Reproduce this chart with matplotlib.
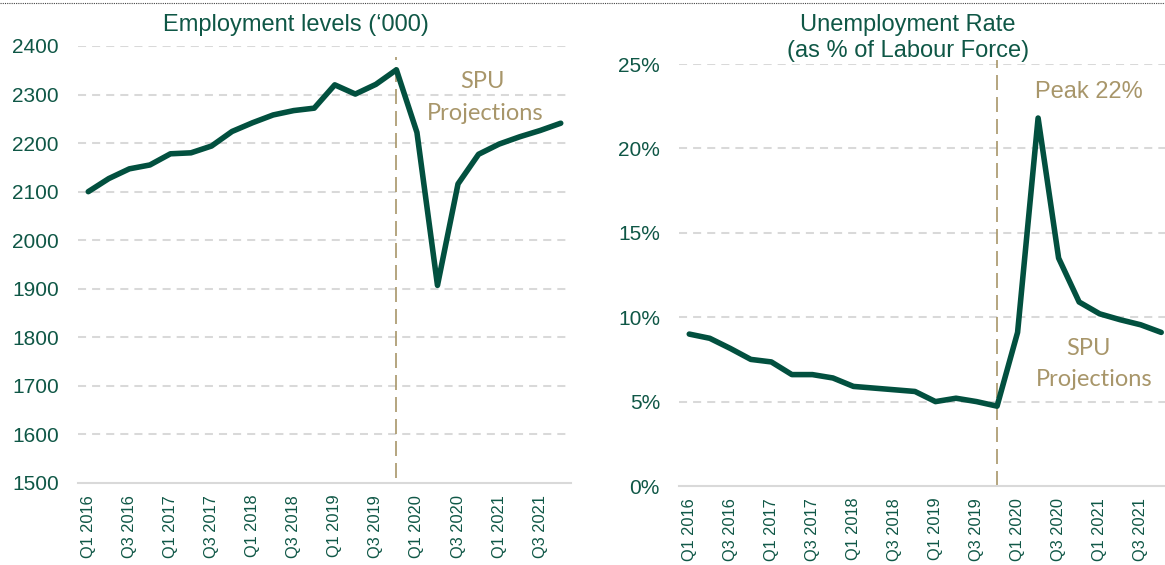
import matplotlib
matplotlib.use("Agg")
import matplotlib.pyplot as plt
from matplotlib.lines import Line2D
from matplotlib.ticker import FuncFormatter

# ---------------- data ----------------
years = [2016, 2017, 2018, 2019, 2020, 2021]
quarters = [f"Q{q} {y}" for y in years for q in (1, 2, 3, 4)]

employment = [2100, 2127, 2147, 2155, 2178, 2180, 2194, 2224, 2242, 2258, 2267, 2272,
              2320, 2301, 2321, 2351, 2222, 1907, 2116, 2177, 2198, 2213, 2226, 2241]
unemployment = [9.0, 8.75, 8.15, 7.5, 7.35, 6.6, 6.6, 6.4, 5.9, 5.8, 5.7, 5.6,
                5.0, 5.2, 5.0, 4.73, 9.1, 21.8, 13.5, 10.9, 10.2, 9.85, 9.55, 9.1]

emp_ticks = [1500, 1600, 1700, 1800, 1900, 2000, 2100, 2200, 2300, 2400]
unemp_ticks = [0, 5, 10, 15, 20, 25]
projection_start = "Q4 2019"

title_left = "Employment levels (\u2018000)"
peak_label = "Peak 22%"
proj_label_1 = "SPU"
proj_label_2 = "Projections"

# ---------------- style ----------------
W, H = 1165, 565
LINE = "#02503F"
TXT = "#0F5746"
GOLD = "#A8966A"
GRID = "#D9D9D9"
SANS = ["Liberation Sans", "DejaVu Sans"]
CAL = ["Lato", "DejaVu Sans"]

plt.rcParams["font.family"] = SANS

fig = plt.figure(figsize=(W / 100, H / 100), dpi=100)


def px_rect(x0, y0, x1, y1):
    return [x0 / W, 1 - y1 / H, (x1 - x0) / W, (y1 - y0) / H]


def style_axis(ax, yticks, fmt=None):
    n = len(quarters)
    ax.set_xlim(-0.5, n - 0.5)
    ax.set_ylim(yticks[0], yticks[-1])
    ax.set_yticks(yticks)
    if fmt:
        ax.yaxis.set_major_formatter(FuncFormatter(fmt))
    ax.set_xticks(range(0, n, 2))
    ax.set_xticklabels(quarters[::2], rotation=90, fontsize=11.8, color=TXT,
                       va="top", ha="center")
    ax.tick_params(axis="x", length=0, pad=8.5)
    ax.tick_params(axis="y", length=0, pad=13.7, labelsize=15, labelcolor=TXT)
    for s in ("top", "right", "left"):
        ax.spines[s].set_visible(False)
    ax.spines["bottom"].set_color(GRID)
    ax.spines["bottom"].set_linewidth(1.5)
    for t in yticks[1:]:
        ax.axhline(t, color=GRID, lw=1.45, ls=(0, (4.0, 3.0)), zorder=0)
    ax.set_facecolor("none")


# ---------------- left panel ----------------
axl = fig.add_axes(px_rect(78, 46, 571, 483))
style_axis(axl, emp_ticks)
x = range(len(quarters))
ps = quarters.index(projection_start)
axl.axvline(ps, ymin=0.011, ymax=0.975, color=GOLD, lw=1.2, ls=(0, (9, 4.2)), zorder=1)
axl.plot(x, employment, color=LINE, lw=4.0, solid_capstyle="round",
         solid_joinstyle="round", zorder=3)

# ---------------- right panel ----------------
axr = fig.add_axes(px_rect(679, 64, 679 + 24 * 20.52, 486))
style_axis(axr, unemp_ticks, fmt=lambda v, p: f"{v:.0f}%")
axr.axvline(ps, ymin=0, ymax=1.01, color=GOLD, lw=1.2, ls=(0, (9, 4.2)),
            zorder=1, clip_on=False)
axr.plot(x, unemployment, color=LINE, lw=4.0, solid_capstyle="round",
         solid_joinstyle="round", zorder=3)

# ---------------- texts ----------------
def ftext(px, py, s, **kw):
    fig.text(px / W, 1 - py / H, s, **kw)


ftext(296, 31, title_left, ha="center", va="baseline", fontsize=17, color=TXT)
ftext(908, 30.7, "Unemployment Rate", ha="center", va="baseline", fontsize=17, color=TXT)
ftext(908, 56.7, "(as % of Labour Force)", ha="center", va="baseline", fontsize=17, color=TXT)

ftext(482, 88.3, proj_label_1, ha="center", va="baseline", fontsize=17,
      color=GOLD, family=CAL)
ftext(485, 120, proj_label_2, ha="center", va="baseline", fontsize=17,
      color=GOLD, family=CAL)
ftext(1088, 355, proj_label_1, ha="center", va="baseline", fontsize=17,
      color=GOLD, family=CAL)
ftext(1094, 386, proj_label_2, ha="center", va="baseline", fontsize=17,
      color=GOLD, family=CAL)
ftext(1088.6, 98.3, peak_label, ha="center", va="baseline", fontsize=17, color=GOLD)

# top dotted border
fig.add_artist(Line2D([0, 1], [1 - 3 / H, 1 - 3 / H], transform=fig.transFigure,
                      color="#444444", lw=0.8, ls=(0, (1, 1))))

fig.savefig("out.png", dpi=100)
